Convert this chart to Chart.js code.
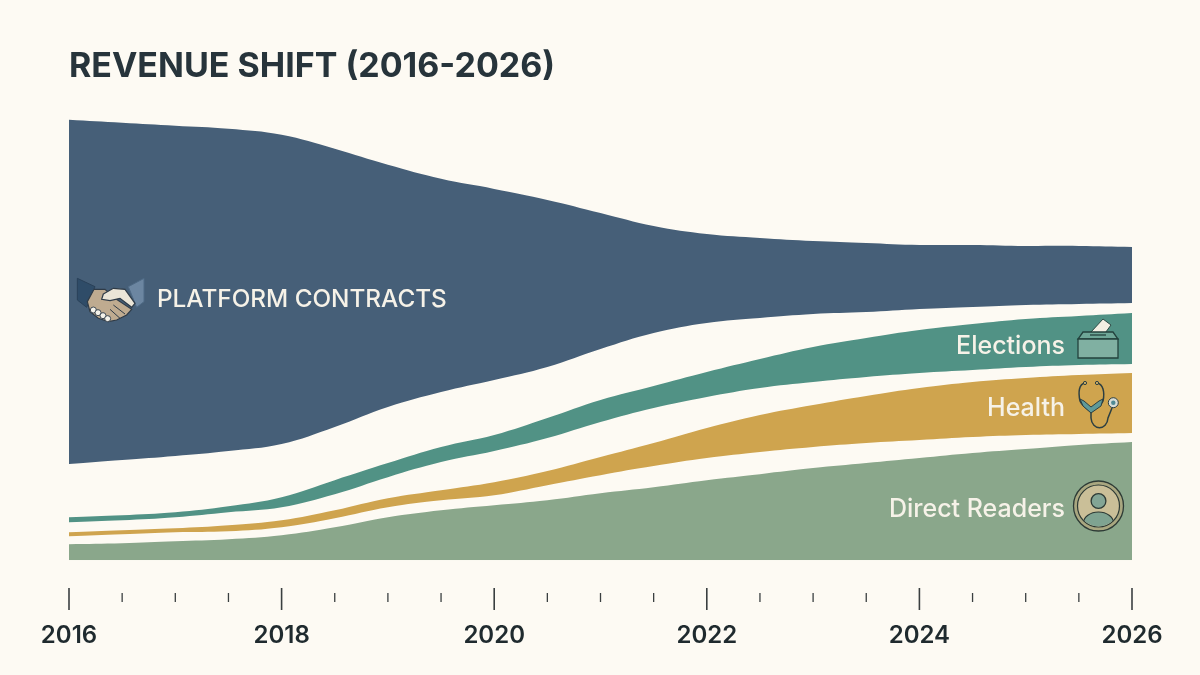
<!DOCTYPE html>
<html>
<head>
<meta charset="utf-8">
<title>Revenue shift</title>
<script src="https://cdn.jsdelivr.net/npm/chart.js@4"></script>
<style>
  html, body { margin: 0; padding: 0; background: #fdfaf3; }
  canvas { display: block; }
</style>
</head>
<body>
<canvas id="chart" width="1200" height="675"></canvas>
<script>
// half-year steps, band edges (height above the baseline)
const years = [2016, 2016.5, 2017, 2017.5, 2018, 2018.5, 2019, 2019.5, 2020, 2020.5, 2021, 2021.5, 2022, 2022.5, 2023, 2023.5, 2024, 2024.5, 2025, 2025.5, 2026];
const platformTop = [440, 437, 434, 431, 425, 411, 395, 381, 371, 360, 347, 334, 326, 322, 319, 317, 315, 315, 314, 314, 313];
const platformBottom = [96, 100, 104, 109, 116, 133, 153, 168, 180, 193, 211, 227, 237, 242, 246, 248, 251, 253, 255, 256, 257];
const electionsTop = [43, 45, 48, 54, 63, 80, 97, 113, 125, 142, 160, 174, 188, 201, 213, 222, 230, 236, 241, 244, 247];
const electionsBottom = [38, 40, 43, 48, 53, 66, 83, 98, 109, 122, 138, 152, 163, 172, 178, 183, 187, 190, 193, 195, 196];
const healthTop = [28, 30, 32, 35, 40, 50, 62, 70, 78, 89, 103, 117, 132, 145, 155, 164, 172, 178, 182, 185, 187];
const healthBottom = [24, 26, 28, 29, 33, 42, 53, 60, 65, 75, 85, 94, 102, 108, 113, 117, 120, 123, 125, 126, 127];
const directTop = [16, 17, 19, 21, 25, 33, 43, 50, 55, 60, 67, 73, 80, 86, 92, 97, 102, 107, 111, 115, 118];
const directBottom = [0, 0, 0, 0, 0, 0, 0, 0, 0, 0, 0, 0, 0, 0, 0, 0, 0, 0, 0, 0, 0];

const FONT = 'Inter, "Open Sans", sans-serif';
const INK = '#1f2a2e';
const LABEL = '#f6f2e8';

const edge = (name, values, fill, color) => ({
    label: name,
    data: values.map((v, i) => ({ x: years[i], y: v })),
    fill: fill,
    backgroundColor: color,
    borderWidth: 0,
    pointRadius: 0,
    tension: 0.4
});

function path(ctx, pts, fill, stroke, width) {
    ctx.beginPath();
    pts.forEach((p, i) => i ? ctx.lineTo(p[0], p[1]) : ctx.moveTo(p[0], p[1]));
    ctx.closePath();
    if (fill) { ctx.fillStyle = fill; ctx.fill(); }
    if (stroke) { ctx.strokeStyle = stroke; ctx.lineWidth = width || 1; ctx.stroke(); }
}

function circle(ctx, x, y, r, fill, stroke, width) {
    ctx.beginPath();
    ctx.arc(x, y, r, 0, Math.PI * 2);
    if (fill) { ctx.fillStyle = fill; ctx.fill(); }
    if (stroke) { ctx.strokeStyle = stroke; ctx.lineWidth = width || 1; ctx.stroke(); }
}

function drawHandshake(ctx) {
    const line = '#2f3b47';
    const at = pts => pts.map(p => [70 + p[0] / 3, 270 + p[1] / 3]);
    path(ctx, at([[22, 25], [75, 50], [50, 112], [22, 90]]), '#2f4c68', '#2a4159', 1);
    path(ctx, at([[222, 25], [175, 50], [200, 112], [222, 95]]), '#6c86a1', '#4f6a85', 1);
    path(ctx, at([[72, 58], [105, 58], [135, 85], [185, 118], [170, 135], [140, 150], [115, 155], [85, 145], [60, 125], [52, 95]]), '#bfab90', line, 1.2);
    path(ctx, at([[100, 72], [130, 55], [165, 58], [195, 100], [185, 112], [150, 85], [120, 92], [95, 88]]), '#ebe5d7', line, 1.2);
    ctx.strokeStyle = line;
    ctx.lineWidth = 1;
    [[[130, 105], [165, 132]], [[120, 118], [150, 145]]].forEach(s => {
        const a = at(s);
        ctx.beginPath(); ctx.moveTo(a[0][0], a[0][1]); ctx.lineTo(a[1][0], a[1][1]); ctx.stroke();
    });
    at([[70, 120], [84, 128], [99, 137], [113, 146]]).forEach(p => circle(ctx, p[0], p[1], 3, '#f5f2e9', line, 0.9));
}

function drawBallotBox(ctx) {
    path(ctx, [[1091, 332], [1103, 319], [1111, 325], [1103, 336]], '#f4efe3', '#2c4a45', 1);
    path(ctx, [[1083, 332], [1113, 332], [1118, 339], [1078, 339]], '#6ea797', '#23423d', 1.3);
    path(ctx, [[1078, 339], [1118, 339], [1118, 358], [1078, 358]], '#80b0a2', '#23423d', 1.3);
    ctx.strokeStyle = '#23423d';
    ctx.lineWidth = 1.3;
    ctx.beginPath(); ctx.moveTo(1090, 335); ctx.lineTo(1106, 335); ctx.stroke();
}

function drawStethoscope(ctx) {
    ctx.strokeStyle = '#2c3f42';
    ctx.lineWidth = 1.5;
    ctx.beginPath();
    ctx.moveTo(1085, 383);
    ctx.bezierCurveTo(1079, 384, 1078, 392, 1080, 401);
    ctx.bezierCurveTo(1082, 406, 1087, 408, 1091, 412);
    ctx.moveTo(1097, 383);
    ctx.bezierCurveTo(1103, 384, 1105, 392, 1103, 401);
    ctx.bezierCurveTo(1101, 406, 1095, 408, 1091, 412);
    ctx.moveTo(1091, 411);
    ctx.lineTo(1091, 418);
    ctx.bezierCurveTo(1092, 431, 1107, 431, 1108, 418);
    ctx.lineTo(1112, 408);
    ctx.stroke();
    path(ctx, [[1080, 399], [1084, 401], [1091, 407], [1099, 401], [1103, 399], [1101, 406], [1091, 413], [1083, 406]], '#5f9a99', '#2c3f42', 1);
    circle(ctx, 1085, 383, 1.6, '#d8b868', '#2c3f42', 1);
    circle(ctx, 1097, 383, 1.6, '#d8b868', '#2c3f42', 1);
    circle(ctx, 1113.3, 402.7, 5, '#d9ddd6', '#2c3f42', 1);
    circle(ctx, 1113.3, 402.7, 2.2, '#4f8a94', null);
}

function drawReader(ctx) {
    const cx = 1098.5, cy = 506;
    circle(ctx, cx, cy, 25, '#a9a780', '#2d3a35', 1.3);
    circle(ctx, cx, cy, 21, '#cabf98', '#2d3a35', 1.2);
    ctx.save();
    ctx.beginPath();
    ctx.arc(cx, cy, 20.4, 0, Math.PI * 2);
    ctx.clip();
    ctx.beginPath();
    ctx.ellipse(cx, cy + 17, 15, 11, 0, 0, Math.PI * 2);
    ctx.fillStyle = '#7fa391';
    ctx.fill();
    ctx.strokeStyle = '#2d3a35';
    ctx.lineWidth = 1.2;
    ctx.stroke();
    ctx.restore();
    circle(ctx, cx, cy - 5, 7.4, '#83a595', '#2d3a35', 1.3);
}

// axis ticks sit well below the plot, and band labels plus icons go on top
const overlay = {
    id: 'overlay',
    afterDraw(chart) {
        const ctx = chart.ctx;
        const x = chart.scales.x;
        ctx.save();
        ctx.strokeStyle = '#3a3f40';
        years.forEach(y => {
            const major = y % 2 === 0;
            const px = x.getPixelForValue(y);
            ctx.lineWidth = major ? 1.6 : 1.3;
            ctx.beginPath();
            ctx.moveTo(px, major ? 588 : 593);
            ctx.lineTo(px, major ? 610 : 602);
            ctx.stroke();
        });
        ctx.fillStyle = LABEL;
        ctx.textBaseline = 'middle';
        ctx.font = '500 24.3px ' + FONT;
        ctx.textAlign = 'left';
        ctx.fillText('PLATFORM CONTRACTS', 157, 300);
        ctx.font = '500 25px ' + FONT;
        ctx.textAlign = 'right';
        ctx.fillText('Elections', 1065, 346);
        ctx.fillText('Health', 1065, 408);
        ctx.fillText('Direct Readers', 1065, 509);
        drawHandshake(ctx);
        drawBallotBox(ctx);
        drawStethoscope(ctx);
        drawReader(ctx);
        ctx.restore();
    }
};

new Chart(document.getElementById('chart'), {
    type: 'line',
    data: {
        datasets: [
            edge('Platform contracts', platformTop, '+1', '#465f78'),
            edge('', platformBottom, false, '#465f78'),
            edge('Elections', electionsTop, '+1', '#519285'),
            edge('', electionsBottom, false, '#519285'),
            edge('Health', healthTop, '+1', '#cfa44e'),
            edge('', healthBottom, false, '#cfa44e'),
            edge('Direct readers', directTop, '+1', '#8aa78b'),
            edge('', directBottom, false, '#8aa78b')
        ]
    },
    options: {
        responsive: false,
        animation: false,
        layout: { padding: { left: 69, right: 68, top: 0, bottom: 16 } },
        plugins: {
            legend: { display: false },
            tooltip: { enabled: false },
            title: {
                display: true,
                text: 'REVENUE SHIFT (2016-2026)',
                align: 'start',
                fullSize: false,
                color: '#27343b',
                font: { family: FONT, size: 34, weight: '700' },
                padding: { top: 46, bottom: 13 }
            }
        },
        scales: {
            x: {
                type: 'linear',
                min: 2016,
                max: 2026,
                border: { display: false },
                grid: { display: true, drawOnChartArea: false, tickLength: 52, tickColor: 'transparent' },
                ticks: {
                    stepSize: 2,
                    padding: 9,
                    maxRotation: 0,
                    color: INK,
                    font: { family: FONT, size: 24, weight: '600' },
                    callback: v => String(v)
                }
            },
            y: { display: false, min: 0, max: 460 }
        }
    },
    plugins: [overlay]
});
</script>
</body>
</html>
